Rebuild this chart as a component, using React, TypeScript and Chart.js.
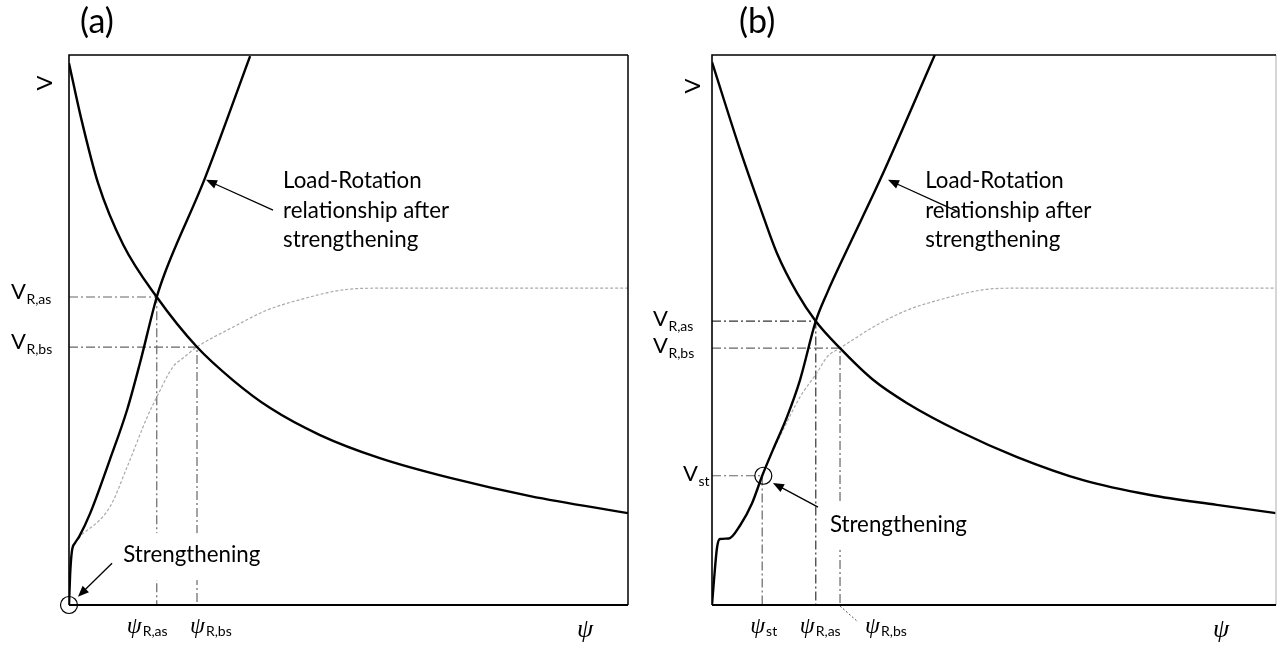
import React, { useEffect, useRef } from "react";
import { Chart, registerables } from "chart.js";
Chart.register(...registerables);

// ---------- DATA (arbitrary units, 0..100 on both axes) ----------
// Panel (a)
const aDemand: number[][] = [
  [0, 98.5], [2.1, 88.8], [5.2, 76.7], [9.7, 65.5], [15.7, 56.0],
  [22.9, 46.9], [29.3, 40.9], [36.0, 35.8], [44.9, 30.9],
  [55.6, 26.7], [68.2, 23.1], [82.5, 19.8], [100, 16.7],
];
const aAfter: number[][] = [
  [0, 0], [0.2, 5.5], [0.5, 9.6], [1.1, 11.3], [1.8, 12.4], [3.8, 16.7],
  [7.3, 26.4], [10.4, 35.5], [12.7, 44.0], [15.7, 56.0], [17.2, 60.5],
  [24.2, 77.3], [32.4, 99.8],
];
const aBefore: number[][] = [
  [1.6, 12.2], [7.3, 17.8], [10.4, 25.1], [14.0, 34.2], [15.7, 37.8],
  [18.6, 43.3], [20.4, 44.9], [22.9, 46.9], [29.3, 50.5], [35.4, 53.6],
  [41.3, 55.5], [49.0, 57.3], [55.6, 57.6], [100, 57.6],
];
const aGuidePoints: number[][] = [[15.7, 56.0], [22.9, 46.9]];
const aGuideSubs: string[] = ["R,as", "R,bs"];

// Panel (b)
const bDemand: number[][] = [
  [0, 98.7], [5.0, 82.7], [8.5, 72.4], [11.5, 64.0], [15.1, 56.7], [18.4, 51.6],
  [22.7, 46.7], [28.5, 41.0], [34.6, 36.7], [44.0, 31.5], [54.1, 26.9],
  [65.8, 22.7], [77.7, 20.0], [89.5, 18.2], [100, 16.7],
];
const bAfter: number[][] = [
  [0, 0], [0.35, 4.5], [0.9, 10.5], [1.4, 12.0], [3.0, 12.1],
  [5.0, 14.5], [7.1, 18.5], [8.9, 23.5], [10.8, 28.2], [13.3, 34.2],
  [15.6, 40.9], [18.4, 51.6], [20.4, 56.7], [23.9, 64.5], [29.8, 77.3],
  [39.5, 100],
];
const bBefore: number[][] = [
  [8.9, 23.5], [9.8, 25.8], [12.6, 31.8], [15.6, 37.8], [18.6, 42.2],
  [20.4, 45.1], [22.7, 46.7], [25.7, 48.7], [28.5, 50.5], [34.6, 53.6],
  [40.4, 55.5], [48.0, 57.3], [52.8, 57.6], [100, 57.6],
];
const bGuidePoints: number[][] = [[8.9, 23.5], [18.4, 51.6], [22.7, 46.7]];
const bGuideSubs: string[] = ["st", "R,as", "R,bs"];

const titles: string[] = ["(a)", "(b)"];
const yAxisTitle = "V";
const xAxisTitle = "\u03C8";
const curveNote: string[] = ["Load-Rotation", "relationship after", "strengthening"];
const strengthNote = "Strengthening";

// ---------- STYLE ----------
const SANS = "Lato, 'Open Sans', sans-serif";
const SERIF = "'Liberation Serif', 'DejaVu Serif', serif";

interface GuideStyle {
  color: string;
  vx: number; // left of V label (canvas px)
  psiDx: number; // offset of psi label from guide line (px)
}

interface PanelSpec {
  title: string;
  titleX: number;
  vTitle: [number, number];
  demand: number[][];
  after: number[][];
  before: number[][];
  guidePts: number[][];
  guideSubs: string[];
  guideStyles: GuideStyle[];
  vBaseDy: number;
  psiMainX: number;
  noteAt: [number, number];
  arrowLR: [number, number, number, number];
  strAt: [number, number];
  arrowStr: [number, number, number, number];
  circleAt: [number, number];
  leaderIdx: number;
  padding: { left: number; top: number; right: number; bottom: number };
  width: number;
  rightBorder: string;
}

const panels: PanelSpec[] = [
  {
    title: titles[0],
    titleX: 80,
    vTitle: [45, 83],
    demand: aDemand,
    after: aAfter,
    before: aBefore,
    guidePts: aGuidePoints,
    guideSubs: aGuideSubs,
    guideStyles: [
      { color: "#666", vx: 11, psiDx: -30 },
      { color: "#666", vx: 11, psiDx: -7 },
    ],
    vBaseDy: 2,
    psiMainX: 577,
    noteAt: [38.3, 75.8],
    arrowLR: [36.5, 71.8, 24.5, 77.3],
    strAt: [9.7, 7.8],
    arrowStr: [7.7, 7.6, 1.6, 1.5],
    circleAt: [0, 0],
    leaderIdx: -1,
    padding: { left: 69, top: 55, right: 12, bottom: 42 },
    width: 640,
    rightBorder: "#000",
  },
  {
    title: titles[1],
    titleX: 99,
    vTitle: [53, 86],
    demand: bDemand,
    after: bAfter,
    before: bBefore,
    guidePts: bGuidePoints,
    guideSubs: bGuideSubs,
    guideStyles: [
      { color: "#666", vx: 43, psiDx: -12 },
      { color: "#333", vx: 13, psiDx: -16 },
      { color: "#666", vx: 13, psiDx: 25 },
    ],
    vBaseDy: 5,
    psiMainX: 573,
    noteAt: [37.8, 75.8],
    arrowLR: [43.4, 71.6, 31.2, 77.3],
    strAt: [20.9, 13.3],
    arrowStr: [18.8, 17.8, 10.8, 22.2],
    circleAt: [9.1, 23.5],
    leaderIdx: 2,
    padding: { left: 72, top: 55, right: 1, bottom: 42 },
    width: 637,
    rightBorder: "#c8c8c8",
  },
];

const toXY = (arr: number[][]) => arr.map(([x, y]) => ({ x, y }));

function fitSize(ctx: CanvasRenderingContext2D, text: string, target: number, family: string) {
  ctx.font = `40px ${family}`;
  const w = ctx.measureText(text).width;
  return (40 * target) / w;
}

function drawArrow(ctx: CanvasRenderingContext2D, x1: number, y1: number, x2: number, y2: number) {
  const ang = Math.atan2(y2 - y1, x2 - x1);
  const L = 11, H = 4.5;
  ctx.strokeStyle = "#000";
  ctx.lineWidth = 1.3;
  ctx.beginPath();
  ctx.moveTo(x1, y1);
  ctx.lineTo(x2 - Math.cos(ang) * L * 0.8, y2 - Math.sin(ang) * L * 0.8);
  ctx.stroke();
  ctx.fillStyle = "#000";
  ctx.beginPath();
  ctx.moveTo(x2, y2);
  ctx.lineTo(x2 - Math.cos(ang) * L - Math.sin(ang) * H, y2 - Math.sin(ang) * L + Math.cos(ang) * H);
  ctx.lineTo(x2 - Math.cos(ang) * L + Math.sin(ang) * H, y2 - Math.sin(ang) * L - Math.cos(ang) * H);
  ctx.closePath();
  ctx.fill();
}

function makePlugin(spec: PanelSpec) {
  return {
    id: "annot",
    afterDatasetsDraw(chart: any) {
      const { ctx, chartArea: ca, scales } = chart;
      const px = (v: number) => scales.x.getPixelForValue(v);
      const py = (v: number) => scales.y.getPixelForValue(v);
      ctx.save();

      // frame
      ctx.strokeStyle = spec.rightBorder;
      ctx.lineWidth = 1.5;
      ctx.beginPath();
      ctx.moveTo(ca.right, ca.top);
      ctx.lineTo(ca.right, ca.bottom);
      ctx.stroke();
      ctx.strokeStyle = "#000";
      ctx.lineWidth = 1.6;
      ctx.beginPath();
      ctx.moveTo(ca.right, ca.top);
      ctx.lineTo(ca.left, ca.top);
      ctx.lineTo(ca.left, ca.bottom);
      ctx.stroke();
      ctx.lineWidth = 2;
      ctx.beginPath();
      ctx.moveTo(ca.left, ca.bottom);
      ctx.lineTo(ca.right, ca.bottom);
      ctx.stroke();

      const bodySize = fitSize(ctx, strengthNote, 137, SANS);
      const body = `${bodySize.toFixed(1)}px ${SANS}`;

      // title
      ctx.fillStyle = "#000";
      ctx.textBaseline = "alphabetic";
      ctx.textAlign = "left";
      ctx.font = `34px ${SANS}`;
      ctx.fillText(spec.title, spec.titleX, 33);

      // rotated V axis title
      ctx.save();
      ctx.translate(spec.vTitle[0], spec.vTitle[1]);
      ctx.rotate(-Math.PI / 2);
      ctx.textAlign = "center";
      ctx.textBaseline = "middle";
      ctx.font = `22px ${SANS}`;
      ctx.fillText(yAxisTitle, 0, 0);
      ctx.restore();

      // guide labels
      spec.guidePts.forEach((p, i) => {
        const st = spec.guideStyles[i];
        const yy = py(p[1]) + spec.vBaseDy;
        ctx.textAlign = "left";
        ctx.textBaseline = "alphabetic";
        ctx.font = `22px ${SANS}`;
        ctx.fillText("V", st.vx, yy);
        const vw = ctx.measureText("V").width;
        ctx.font = `14px ${SANS}`;
        ctx.fillText(spec.guideSubs[i], st.vx + vw + 0.5, yy + 5);
        // psi label
        const gx = px(p[0]) + st.psiDx;
        ctx.font = `italic 24px ${SERIF}`;
        ctx.fillText(xAxisTitle, gx, 633);
        const pw = ctx.measureText(xAxisTitle).width;
        ctx.font = `14px ${SANS}`;
        ctx.fillText(spec.guideSubs[i], gx + pw + 1, 636);
      });

      // leader for psi label
      if (spec.leaderIdx >= 0) {
        const p = spec.guidePts[spec.leaderIdx];
        ctx.strokeStyle = "#555";
        ctx.lineWidth = 1;
        ctx.setLineDash([2, 2]);
        ctx.beginPath();
        ctx.moveTo(px(p[0]), ca.bottom + 1);
        ctx.lineTo(px(p[0]) + 18, ca.bottom + 17);
        ctx.stroke();
        ctx.setLineDash([]);
      }

      // main psi
      ctx.font = `italic 26px ${SERIF}`;
      ctx.fillText(xAxisTitle, spec.psiMainX, 637);

      // Load-Rotation note
      ctx.font = body;
      const nx = px(spec.noteAt[0]);
      const ny = py(spec.noteAt[1]);
      curveNote.forEach((t, i) => ctx.fillText(t, nx, ny + i * 29.5));
      drawArrow(ctx, px(spec.arrowLR[0]), py(spec.arrowLR[1]), px(spec.arrowLR[2]), py(spec.arrowLR[3]));

      // Strengthening note with white background
      const sx = px(spec.strAt[0]);
      const sy = py(spec.strAt[1]);
      const sw = ctx.measureText(strengthNote).width;
      ctx.fillStyle = "#fff";
      ctx.fillRect(sx - 4, sy - 29, sw + 8, 47);
      ctx.fillStyle = "#000";
      ctx.fillText(strengthNote, sx, sy);
      drawArrow(ctx, px(spec.arrowStr[0]), py(spec.arrowStr[1]), px(spec.arrowStr[2]), py(spec.arrowStr[3]));

      // circle
      ctx.strokeStyle = "#000";
      ctx.lineWidth = 1.2;
      ctx.beginPath();
      ctx.arc(px(spec.circleAt[0]), py(spec.circleAt[1]), 8.5, 0, Math.PI * 2);
      ctx.stroke();

      ctx.restore();
    },
  };
}

function Panel({ spec, left }: { spec: PanelSpec; left: number }) {
  const ref = useRef<HTMLCanvasElement | null>(null);
  useEffect(() => {
    if (!ref.current) return;
    const guideSets = spec.guidePts.map((p, i) => ({
      data: toXY([[0, p[1]], [p[0], p[1]], [p[0], 0]]),
      borderColor: spec.guideStyles[i].color,
      borderWidth: 1.2,
      borderDash: [9, 3, 2, 3],
      tension: 0,
      pointRadius: 0,
      order: 4,
    }));
    const chart = new Chart(ref.current, {
      type: "line",
      data: {
        datasets: [
          {
            data: toXY(spec.demand),
            borderColor: "#000",
            borderWidth: 2.4,
            cubicInterpolationMode: "monotone",
            pointRadius: 0,
            order: 1,
          },
          {
            data: toXY(spec.after),
            borderColor: "#000",
            borderWidth: 2.4,
            cubicInterpolationMode: "monotone",
            pointRadius: 0,
            order: 1,
          },
          {
            data: toXY(spec.before),
            borderColor: "#aaa",
            borderWidth: 1.2,
            borderDash: [3, 2],
            cubicInterpolationMode: "monotone",
            pointRadius: 0,
            order: 3,
          },
          ...guideSets,
        ] as any,
      },
      options: {
        animation: false,
        responsive: false,
        maintainAspectRatio: false,
        layout: { padding: spec.padding },
        plugins: {
          legend: { display: false },
          tooltip: { enabled: false },
          title: { display: false },
        },
        scales: {
          x: { type: "linear", min: 0, max: 100, display: false },
          y: { type: "linear", min: 0, max: 100, display: false },
        },
        elements: { point: { radius: 0 } },
      } as any,
      plugins: [makePlugin(spec)],
    });
    return () => chart.destroy();
  }, [spec]);
  return (
    <canvas
      ref={ref}
      width={spec.width}
      height={647}
      style={{ position: "absolute", left, top: 0, width: spec.width, height: 647 }}
    />
  );
}

export default function App() {
  return (
    <div style={{ position: "fixed", left: 0, top: 0, width: 1277, height: 647, background: "#fff" }}>
      <Panel spec={panels[0]} left={0} />
      <Panel spec={panels[1]} left={640} />
    </div>
  );
}
